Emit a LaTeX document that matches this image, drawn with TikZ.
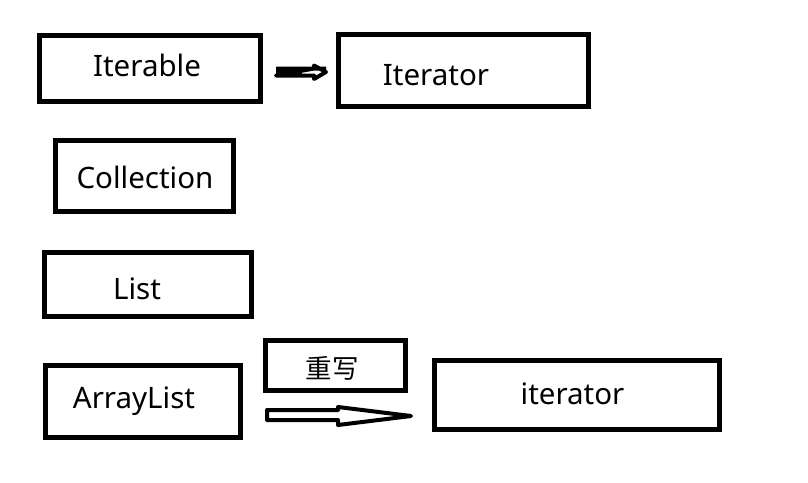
\documentclass[tikz,border=0pt]{standalone}
\usepackage{fontspec}
\setmainfont{Noto Sans}
\newfontfamily\cjk{Noto Sans CJK SC}
\begin{document}
\begin{tikzpicture}[x=1pt,y=-1pt,
  box/.style={draw=black,line width=5pt,fill=white,inner sep=0pt},
  lbl/.style={font=\fontsize{29.5}{32}\selectfont,inner sep=0pt},
  blockarrow/.style={draw=black,line width=4pt,fill=white,line join=round}]
\useasboundingbox (0,0) rectangle (808,482);
\fill[white] (0,0) rectangle (808,482);
\node[box,minimum width=221pt,minimum height=66pt,
  label={[lbl,xshift=-3pt,yshift=3.5pt]center:Iterable}] (iterable) at (150,68.5) {};
\node[box,minimum width=250pt,minimum height=72pt,
  label={[lbl,xshift=-27.5pt,yshift=-4.5pt]center:Iterator}] (Iterator) at (463.5,70.5) {};
\node[box,minimum width=178pt,minimum height=71pt,
  label={[lbl,xshift=0.5pt,yshift=-1pt]center:Collection}] (collection) at (144.5,176) {};
\node[box,minimum width=207pt,minimum height=64pt,
  label={[lbl,xshift=-11pt,yshift=-4pt]center:List}] (list) at (148,284.5) {};
\node[box,minimum width=195pt,minimum height=72pt,
  label={[lbl,xshift=-9pt,yshift=0pt]center:ArrayList}] (arraylist) at (143,401.5) {};
\node[box,minimum width=140pt,minimum height=50pt,
  label={[lbl,font=\cjk\fontsize{26.5}{30}\selectfont,xshift=-3.5pt,yshift=-2.5pt]center:重写}] (rewrite) at (335.5,365.5) {};
\node[box,minimum width=285pt,minimum height=69pt,
  label={[lbl,xshift=-4.5pt,yshift=1pt]center:iterator}] (iter2) at (577,395) {};
% top block arrow (Iterable -> Iterator)
\coordinate (a1) at (276,72);
\coordinate (a1tip) at (326,72);
\draw[blockarrow] (a1) ++(0,-3.5) -- (a1tip |- 0,68.5) ++(-12,0) -- ++(0,-3)
  -- (a1tip) -- ++(-12,7) -- ++(0,-3.5) -- (a1 |- 0,75.5) -- cycle;
\fill[black] (a1) ++(0,-3.5) rectangle ++(26,7);
% bottom block arrow (ArrayList -> iterator)
\coordinate (a2) at (267,415);
\coordinate (a2tip) at (411,416);
\draw[blockarrow] (267,410) -- (338,410) -- (338,407) -- (a2tip) -- (338,425)
  -- (338,420) -- (267,420) -- cycle;
\end{tikzpicture}
\end{document}
